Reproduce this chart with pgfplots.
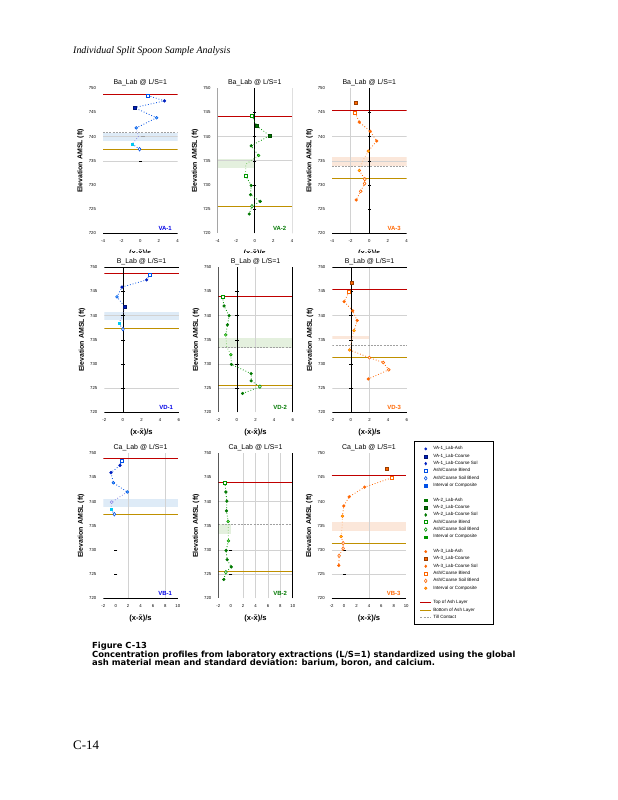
\documentclass[border=0pt]{standalone}
\usepackage{fontspec}
\setmainfont{Liberation Sans}
\newfontfamily\seriffont{Liberation Serif}
\newfontfamily\capfont{DejaVu Sans}
\usepackage{pgfplots}
\pgfplotsset{compat=1.18}
\newcommand{\fsz}[1]{\fontsize{#1}{#1}\selectfont}
\definecolor{bdark}{RGB}{0,32,192}
\definecolor{bmid}{RGB}{0,80,230}
\definecolor{blight}{RGB}{90,190,255}
\definecolor{bcyan}{RGB}{0,200,240}
\definecolor{blav}{RGB}{140,140,230}
\definecolor{bsite}{RGB}{0,0,230}
\definecolor{gdark}{RGB}{0,120,0}
\definecolor{gmid}{RGB}{0,150,0}
\definecolor{glight}{RGB}{130,220,90}
\definecolor{glline}{RGB}{120,200,100}
\definecolor{odark}{RGB}{240,90,0}
\definecolor{omid}{RGB}{255,102,0}
\definecolor{oyel}{RGB}{255,220,0}
\definecolor{olline}{RGB}{255,180,120}
\definecolor{refred}{RGB}{192,0,0}
\definecolor{refgold}{RGB}{191,144,0}
\definecolor{bband}{RGB}{222,235,247}
\definecolor{gband}{RGB}{228,240,222}
\definecolor{oband}{RGB}{251,231,218}
\definecolor{gridc}{RGB}{210,210,210}
\definecolor{dashc}{RGB}{160,160,160}
\pgfplotsset{
 panel/.style={scale only axis, width=74.5bp, height=145bp, ymin=720, ymax=750,
  ytick={720,725,730,735,740,745,750},
  axis line style={draw=none}, major tick length=0pt,
  /pgf/number format/assume math mode=true, /pgf/number format/1000 sep={},
  tick label style={font=\fsz{4.3}},
  xticklabel style={yshift=-3bp},
  yticklabel style={xshift=-3.5bp},
  title style={font=\fsz{7}, at={(0.5,1)}, anchor=south, yshift=-4bp, inner sep=0pt},
  ylabel={Elevation AMSL (ft)},
  ylabel style={font=\bfseries\fsz{7}, at={(axis description cs:-0.3,0.5)}, anchor=center},
  xlabel={(x-\=x)/s},
  xlabel style={font=\bfseries\fsz{7.6}, at={(axis description cs:0.5,-0.138)}, anchor=center},
 },
 mA/.style={only marks, mark=*, mark size=1.4bp, mark options={solid, draw=#1, fill=#1, line width=0.4bp}},
 mB/.style={only marks, mark=square*, mark size=1.5bp, mark options={solid, draw=black!40!#1, fill=#1, line width=0.4bp}},
 mC/.style={only marks, mark=diamond*, mark size=1.8bp, mark options={solid, draw=#1, fill=#1, line width=0.4bp}},
 mD/.style={only marks, mark=square*, mark size=1.5bp, mark options={solid, draw=#1, fill=white, line width=0.6bp}},
 mE/.style={only marks, mark=diamond*, mark size=1.8bp, mark options={solid, draw=#1, fill=white, line width=0.6bp}},
 mO/.style={only marks, mark=*, mark size=1.4bp, mark options={solid, draw=#1, fill=white, line width=0.6bp}},
 mF/.style 2 args={only marks, mark=*, mark size=1.4bp, mark options={solid, draw=#1, fill=#2, line width=0.5bp}},
 mS/.style={only marks, mark=square*, mark size=1.1bp, mark options={solid, draw=#1, fill=#1}},
 dline/.style={draw=#1, dotted, line width=0.8bp},
 redl/.style={draw=refred, line width=0.9bp},
 goldl/.style={draw=refgold, line width=0.9bp},
 dashl/.style={draw=dashc, line width=0.7bp, dash pattern=on 2bp off 1.2bp},
 gridl/.style={draw=gridc, line width=0.6bp},
 axl/.style={draw=black, line width=0.7bp},
 tickm/.style={only marks, mark=-, mark size=1.6bp, mark options={black, line width=0.5bp}},
}
\tikzset{site/.style={font=\bfseries\fsz{6}, text=#1, anchor=south east, inner sep=0pt}}
\newcommand{\hln}[4]{\addplot[#1] coordinates {(#2,#4) (#3,#4)};}
\newcommand{\vln}[2]{\addplot[#1] coordinates {(#2,720) (#2,750)};}
\newcommand{\band}[5]{\addplot[fill=#1, draw=none] coordinates {(#2,#4) (#3,#4) (#3,#5) (#2,#5)} --cycle;}
\begin{document}
\begin{tikzpicture}
\useasboundingbox (0,0) rectangle (618bp,-800bp);
\fill[white] (0,0) rectangle (618bp,-800bp);
\node[anchor=base west, inner sep=0pt, font=\seriffont\itshape\fsz{10}] at (73bp,-53bp) {Individual Split Spoon Sample Analysis};

% ---------- Row 1: Ba ----------
\begin{axis}[panel, at={(103bp,-233.3bp)}, anchor=south west, xmin=-4, xmax=4, xtick={-4,-2,0,2,4}, title={Ba\_Lab @ L/S=1}]
\band{bband}{-4}{4}{739.0}{740.7}
\hln{gridl}{-4}{4}{740}
\hln{gridl}{-4}{4}{735}
\hln{dashl}{-4}{4}{740.9}
\hln{redl}{-4}{4}{748.8}
\hln{goldl}{-4}{4}{737.4}
\hln{axl}{-4}{4}{720}
\addplot[tickm] coordinates {(0,735)};
\addplot[only marks, mark=-, mark size=1.8bp, mark options={dashc, line width=0.6bp}] coordinates {(0.3,740.1)};
\addplot[dline=bmid] coordinates {(0.82,748.5) (2.6,747.4) (-0.64,746.0) (1.75,743.9) (-0.43,741.8)};
\addplot[dline=blav] coordinates {(-0.43,741.8) (-0.2,740.0) (-0.86,738.5)};
\addplot[dline=bmid] coordinates {(-0.86,738.5) (-0.07,737.4)};
\addplot[mD=bmid] coordinates {(0.82,748.5)};
\addplot[mA=bdark] coordinates {(2.6,747.4)};
\addplot[mB=bdark] coordinates {(-0.64,746.0)};
\addplot[mF={bmid}{blight}] coordinates {(1.75,743.9) (-0.43,741.8)};
\addplot[mS=bcyan] coordinates {(-0.86,738.5)};
\addplot[mE=bmid] coordinates {(-0.07,737.4)};
\node[site=bsite] at (rel axis cs:0.925,0.018) {VA-1};
\end{axis}

\begin{axis}[panel, at={(217.5bp,-233.3bp)}, anchor=south west, xmin=-4, xmax=4, xtick={-4,-2,0,2,4}, title={Ba\_Lab @ L/S=1}]
\band{gband}{-4}{0}{733.5}{735.4}
\hln{gridl}{-4}{4}{740}
\hln{gridl}{-4}{4}{735.2}
\hln{redl}{-4}{4}{744.1}
\hln{goldl}{-4}{4}{725.6}
\vln{axl}{-4}
\vln{axl}{4}
\vln{axl}{0}
\addplot[tickm] coordinates {(0,725) (0,730) (0,735) (0,740) (0,745)};
\addplot[dline=gmid] coordinates {(-0.3,744.3) (0.24,742.2) (1.6,740.2) (-0.38,738.1) (0.41,736.1)};
\addplot[dline=glline] coordinates {(0.41,736.1) (-0.95,734.3) (-1.0,732.0)};
\addplot[dline=gmid] coordinates {(-1.0,732.0) (-0.38,729.9) (-0.45,728.0) (0.59,726.6) (-0.3,725.6) (-0.59,724.0)};
\addplot[mD=gmid] coordinates {(-0.3,744.3) (-1.0,732.0)};
\addplot[mB=gdark] coordinates {(0.24,742.2) (1.6,740.2)};
\addplot[mA=gdark] coordinates {(-0.38,738.1) (-0.38,729.9) (-0.45,728.0) (0.59,726.6) (-0.59,724.0)};
\addplot[mF={gmid}{glight}] coordinates {(0.41,736.1)};
\addplot[mE=gmid] coordinates {(-0.3,725.6)};
\node[site=gdark] at (rel axis cs:0.925,0.018) {VA-2};
\end{axis}

\begin{axis}[panel, at={(332bp,-233.3bp)}, anchor=south west, xmin=-4, xmax=4, xtick={-4,-2,0,2,4}, title={Ba\_Lab @ L/S=1}]
\band{oband}{-4}{4}{733.9}{735.8}
\vln{gridl}{-2}
\hln{gridl}{-4}{4}{740}
\hln{gridl}{-4}{4}{735}
\hln{dashl}{-4}{4}{733.9}
\hln{redl}{-4}{4}{745.5}
\hln{goldl}{-4}{4}{731.4}
\hln{axl}{-4}{4}{720}
\vln{axl}{0}
\addplot[tickm] coordinates {(0,725) (0,730) (0,735) (0,740) (0,745)};
\addplot[dline=omid] coordinates {(-1.5,744.9) (-1.07,743.0) (0.1,741.1) (0.8,739.1) (-0.1,737.0)};
\addplot[dline=olline] coordinates {(-0.1,737.0) (-0.66,735.1) (-1.07,733.0)};
\addplot[dline=omid] coordinates {(-1.07,733.0) (-0.48,731.2) (-0.5,730.3) (-0.92,728.7) (-1.4,726.9)};
\addplot[mB=omid] coordinates {(-1.5,747.0)};
\addplot[mD=omid] coordinates {(-1.5,744.9)};
\addplot[mA=omid] coordinates {(-1.07,743.0) (0.1,741.1) (0.8,739.1) (-1.4,726.9)};
\addplot[mF={omid}{oyel}] coordinates {(-0.1,737.0) (-1.07,733.0)};
\addplot[mE=omid] coordinates {(-0.48,731.2) (-0.5,730.3)};
\addplot[mO=omid] coordinates {(-0.92,728.7)};
\node[site=omid] at (rel axis cs:0.925,0.018) {VA-3};
\end{axis}

\fill[white] (60bp,-252.8bp) rectangle (420bp,-258.2bp);

% ---------- Row 2: B ----------
\begin{axis}[panel, at={(104.3bp,-412.3bp)}, anchor=south west, xmin=-2, xmax=6, xtick={-2,0,2,4,6}, title={B\_Lab @ L/S=1}]
\band{bband}{-2}{6}{739.0}{740.75}
\hln{gridl}{-2}{6}{740}
\hln{gridl}{-2}{6}{725}
\hln{redl}{-2}{6}{748.8}
\hln{goldl}{-2}{6}{737.4}
\hln{axl}{-2}{6}{750}
\hln{axl}{-2}{6}{720}
\vln{axl}{0}
\addplot[tickm] coordinates {(0,725) (0,730) (0,735) (0,740) (0,745)};
\addplot[dline=bmid] coordinates {(2.88,748.4) (2.55,747.4) (-0.1,745.9) (-0.64,743.9) (0.19,741.8)};
\addplot[dline=blav] coordinates {(0.19,741.8) (-0.05,740.0) (-0.43,738.4)};
\addplot[dline=bmid] coordinates {(-0.43,738.4) (0.0,737.2)};
\addplot[mD=bmid] coordinates {(2.88,748.4)};
\addplot[mA=bdark] coordinates {(2.55,747.4) (-0.1,745.9)};
\addplot[mF={bmid}{blight}] coordinates {(-0.64,743.9)};
\addplot[mB=bdark] coordinates {(0.19,741.8)};
\addplot[mS=bcyan] coordinates {(-0.43,738.4)};
\addplot[mE=bmid] coordinates {(0.0,737.2)};
\node[site=bsite] at (rel axis cs:0.925,0.018) {VD-1};
\end{axis}

\begin{axis}[panel, at={(218.3bp,-412.3bp)}, anchor=south west, xmin=-2, xmax=6, xtick={-2,0,2,4,6}, title={B\_Lab @ L/S=1}]
\band{gband}{-2}{6}{733.4}{735.3}
\vln{gridl}{2}
\hln{gridl}{-2}{6}{740}
\hln{gridl}{-2}{6}{730}
\hln{gridl}{-2}{6}{725}
\hln{dashl}{-2}{6}{733.5}
\hln{redl}{-2}{6}{744.0}
\hln{goldl}{-2}{6}{725.6}
\vln{axl}{-2}
\vln{axl}{6}
\vln{axl}{0}
\addplot[tickm] coordinates {(0,725) (0,730) (0,735) (0,740) (0,745)};
\addplot[dline=gmid] coordinates {(-1.57,743.9) (-1.38,742.0) (-0.84,740.0) (-1.02,738.1) (-1.2,736.0)};
\addplot[dline=glline] coordinates {(-1.2,736.0) (-1.1,733.6) (-0.65,731.9)};
\addplot[dline=gmid] coordinates {(-0.65,731.9) (-0.59,729.9) (1.53,728.0) (1.53,726.5) (2.47,725.3) (0.61,723.9)};
\addplot[mD=gmid] coordinates {(-1.57,743.9)};
\addplot[mA=gdark] coordinates {(-1.38,742.0) (-0.84,740.0) (-1.02,738.1) (-0.59,729.9) (1.53,728.0) (1.53,726.5) (0.61,723.9)};
\addplot[mF={gmid}{glight}] coordinates {(-1.2,736.0) (-0.65,731.9)};
\addplot[mE=gmid] coordinates {(2.47,725.3)};
\node[site=gdark] at (rel axis cs:0.925,0.018) {VD-2};
\end{axis}

\begin{axis}[panel, at={(332.3bp,-412.3bp)}, anchor=south west, xmin=-2, xmax=6, xtick={-2,0,2,4,6}, title={B\_Lab @ L/S=1}]
\band{oband}{-2}{2}{735.1}{735.8}
\vln{gridl}{2}
\hln{gridl}{-2}{6}{740}
\hln{gridl}{-2}{6}{725}
\hln{dashl}{-2}{6}{733.8}
\hln{redl}{-2}{6}{745.4}
\hln{goldl}{-2}{6}{731.4}
\hln{axl}{-2}{6}{750}
\hln{axl}{-2}{6}{720}
\vln{axl}{0}
\addplot[tickm] coordinates {(0,725) (0,730) (0,735) (0,740) (0,745)};
\addplot[dline=omid] coordinates {(-0.21,744.9) (-0.73,742.9) (0.19,741.0) (0.67,739.0) (0.34,736.9)};
\addplot[dline=olline] coordinates {(0.34,736.9) (0.1,735.0) (-0.14,732.9)};
\addplot[dline=omid] coordinates {(-0.14,732.9) (1.98,731.3) (3.47,730.3) (4.06,728.8) (1.87,726.9)};
\addplot[mB=omid] coordinates {(0.04,746.9)};
\addplot[mD=omid] coordinates {(-0.21,744.9)};
\addplot[mA=omid] coordinates {(-0.73,742.9) (0.19,741.0) (0.67,739.0) (1.87,726.9)};
\addplot[mF={omid}{oyel}] coordinates {(0.34,736.9) (-0.14,732.9)};
\addplot[mO=omid] coordinates {(1.98,731.3) (3.47,730.3) (4.06,728.8)};
\node[site=omid] at (rel axis cs:0.925,0.018) {VD-3};
\end{axis}

% ---------- Row 3: Ca ----------
\begin{axis}[panel, at={(103.3bp,-598.3bp)}, anchor=south west, xmin=-2, xmax=10, xtick={-2,0,2,4,6,8,10}, title={Ca\_Lab @ L/S=1}]
\band{bband}{-2}{10}{738.9}{740.6}
\vln{gridl}{2}
\vln{gridl}{8}
\hln{redl}{-2}{10}{748.9}
\hln{goldl}{-2}{10}{737.3}
\hln{axl}{-2}{10}{720}
\addplot[tickm] coordinates {(0,725) (0,730)};
\addplot[dline=bmid] coordinates {(0.97,748.5) (0.69,747.5) (-0.76,746.0) (-0.38,743.9) (1.87,742.0)};
\addplot[dline=blav] coordinates {(1.87,742.0) (-0.65,739.9) (-0.76,738.4)};
\addplot[dline=bmid] coordinates {(-0.76,738.4) (-0.22,737.4)};
\addplot[mD=bmid] coordinates {(0.97,748.5)};
\addplot[mA=bdark] coordinates {(0.69,747.5) (-0.76,746.0)};
\addplot[mF={bmid}{blight}] coordinates {(-0.38,743.9) (1.87,742.0)};
\addplot[mO=blav] coordinates {(-0.65,739.9)};
\addplot[mS=bcyan] coordinates {(-0.76,738.4)};
\addplot[mE=bmid] coordinates {(-0.22,737.4)};
\node[site=bsite] at (rel axis cs:0.925,0.018) {VB-1};
\end{axis}

\begin{axis}[panel, at={(218.3bp,-598.3bp)}, anchor=south west, xmin=-2, xmax=10, xtick={-2,0,2,4,6,8,10}, title={Ca\_Lab @ L/S=1}]
\band{gband}{-2}{0}{733.4}{735.4}
\vln{gridl}{2}
\vln{gridl}{4}
\vln{gridl}{6}
\vln{gridl}{8}
\hln{gridl}{-2}{10}{740}
\hln{gridl}{-2}{10}{730}
\hln{gridl}{-2}{10}{725}
\hln{dashl}{-2}{10}{735.4}
\hln{redl}{-2}{10}{743.9}
\hln{goldl}{-2}{10}{725.6}
\vln{axl}{-2}
\vln{axl}{10}
\addplot[tickm] coordinates {(0,725) (0,730)};
\addplot[dline=gmid] coordinates {(-0.95,744.0) (-0.78,742.0) (-0.62,740.1) (-0.68,738.1) (-0.41,735.9)};
\addplot[dline=glline] coordinates {(-0.41,735.9) (-0.4,733.9) (-0.36,731.9)};
\addplot[dline=gmid] coordinates {(-0.36,731.9) (-0.74,729.9) (-0.57,728.0) (0.08,726.5) (-0.78,725.4) (-1.11,723.9)};
\addplot[mD=gmid] coordinates {(-0.95,744.0)};
\addplot[mA=gdark] coordinates {(-0.78,742.0) (-0.62,740.1) (-0.68,738.1) (-0.74,729.9) (-0.57,728.0) (0.08,726.5) (-1.11,723.9)};
\addplot[mF={gmid}{glight}] coordinates {(-0.41,735.9) (-0.36,731.9)};
\addplot[mE=gmid] coordinates {(-0.78,725.4)};
\node[site=gdark] at (rel axis cs:0.925,0.018) {VB-2};
\end{axis}

\begin{axis}[panel, at={(331.7bp,-598.3bp)}, anchor=south west, xmin=-2, xmax=10, xtick={-2,0,2,4,6,8,10}, title={Ca\_Lab @ L/S=1}]
\band{oband}{-2}{10}{733.9}{735.7}
\vln{gridl}{4}
\hln{gridl}{-2}{10}{730}
\hln{gridl}{-2}{10}{725}
\hln{redl}{-2}{10}{745.4}
\hln{goldl}{-2}{10}{731.4}
\hln{axl}{-2}{10}{720}
\addplot[tickm] coordinates {(0,725) (0,730)};
\addplot[dline=omid] coordinates {(7.6,744.9) (3.3,743.0) (0.81,741.0) (-0.05,739.1) (-0.27,737.0)};
\addplot[dline=olline] coordinates {(-0.27,737.0) (-0.3,735.0) (-0.49,732.8)};
\addplot[dline=omid] coordinates {(-0.49,732.8) (-0.16,731.4) (-0.16,730.3) (-0.81,728.8) (-0.86,726.8)};
\addplot[mB=omid] coordinates {(6.8,746.9)};
\addplot[mD=omid] coordinates {(7.6,744.9)};
\addplot[mA=omid] coordinates {(3.3,743.0) (0.81,741.0) (-0.05,739.1) (-0.86,726.8)};
\addplot[mF={omid}{oyel}] coordinates {(-0.27,737.0) (-0.49,732.8)};
\addplot[mE=omid] coordinates {(-0.16,731.4) (-0.16,730.3) (-0.81,728.8)};
\node[site=omid] at (rel axis cs:0.925,0.018) {VB-3};
\end{axis}

% ---------- Legend ----------
\draw[black, line width=0.6bp] (414bp,-441bp) rectangle (493bp,-624bp);
\begin{axis}[hide axis, scale only axis, width=60bp, height=170bp, at={(420bp,-445.3bp)}, anchor=north west,
  xmin=0, xmax=1, ymin=0, ymax=1,
  legend style={at={(0,1)}, anchor=north west, draw=none, fill=none, inner sep=0pt, outer sep=0pt,
    row sep=0pt, column sep=1.8bp, font=\fsz{4.6}, nodes={inner sep=0pt, minimum height=7.33bp}, cells={anchor=west}},
  legend image code/.code={\path[draw=none, fill=none] (0bp,-1bp) rectangle (10.6bp,1bp); \draw[mark repeat=2,mark phase=2,#1] plot coordinates {(0bp,0bp) (5.3bp,0bp) (10.6bp,0bp)};}]
\addlegendimage{mA=bdark, mark size=1.2bp}\addlegendentry{VA-1\_Lab-Ash}
\addlegendimage{mB=bdark}\addlegendentry{VA-1\_Lab-Coarse}
\addlegendimage{mC=bdark, mark size=1.4bp}\addlegendentry{VA-1\_Lab-Coarse Sol}
\addlegendimage{mD=bmid}\addlegendentry{Ash/Coarse Blend}
\addlegendimage{mE=bmid}\addlegendentry{Ash/Coarse Soil Blend}
\addlegendimage{mS=bmid}\addlegendentry{Interval or Composite}
\addlegendimage{empty legend}\addlegendentry{}
\addlegendimage{mS=gdark}\addlegendentry{VA-2\_Lab-Ash}
\addlegendimage{mB=gdark}\addlegendentry{VA-2\_Lab-Coarse}
\addlegendimage{mC=gdark, mark size=1.5bp}\addlegendentry{VA-2\_Lab-Coarse Sol}
\addlegendimage{mD=gmid}\addlegendentry{Ash/Coarse Blend}
\addlegendimage{mE=gmid}\addlegendentry{Ash/Coarse Soil Blend}
\addlegendimage{mS=gmid}\addlegendentry{Interval or Composite}
\addlegendimage{empty legend}\addlegendentry{}
\addlegendimage{mA=omid, mark size=1.2bp}\addlegendentry{VA-3\_Lab-Ash}
\addlegendimage{mB=omid}\addlegendentry{VA-3\_Lab-Coarse}
\addlegendimage{mC=omid, mark size=1.4bp}\addlegendentry{VA-3\_Lab-Coarse Sol}
\addlegendimage{mD=omid}\addlegendentry{Ash/Coarse Blend}
\addlegendimage{mE=omid}\addlegendentry{Ash/Coarse Soil Blend}
\addlegendimage{mF={omid}{oyel}, mark size=1.3bp}\addlegendentry{Interval or Composite}
\addlegendimage{empty legend}\addlegendentry{}
\addlegendimage{redl}\addlegendentry{Top of Ash Layer}
\addlegendimage{goldl}\addlegendentry{Bottom of Ash Layer}
\addlegendimage{dashl}\addlegendentry{Till Contact}
\end{axis}

% ---------- Caption ----------
\node[anchor=base west, inner sep=0pt, font=\capfont\bfseries\fsz{8.4}] at (92bp,-648bp) {Figure C-13};
\node[anchor=base west, inner sep=0pt, font=\capfont\bfseries\fsz{8.45}] at (92bp,-657.3bp) {Concentration profiles from laboratory extractions (L/S=1) standardized using the global};
\node[anchor=base west, inner sep=0pt, font=\capfont\bfseries\fsz{8.45}] at (92bp,-665.6bp) {ash material mean and standard deviation: barium, boron, and calcium.};
\node[anchor=base west, inner sep=0pt, font=\seriffont\fsz{13}] at (73bp,-749bp) {C-14};
\end{tikzpicture}
\end{document}
